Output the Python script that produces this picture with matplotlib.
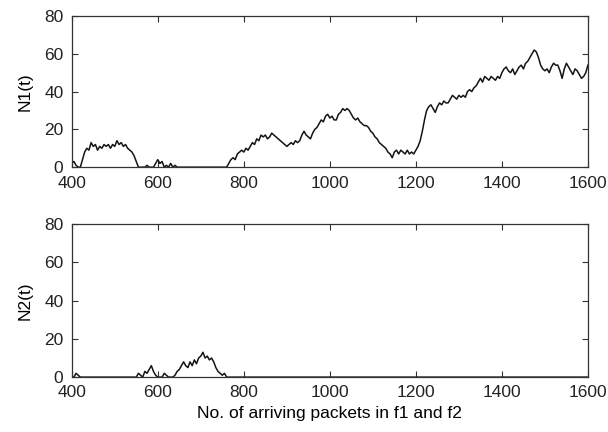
import numpy as np
import matplotlib
matplotlib.use("Agg")
import matplotlib.pyplot as plt

plt.rcParams.update({
    "font.family": ["Liberation Sans", "DejaVu Sans"], "font.size": 12.5,
    "xtick.direction": "in", "ytick.direction": "in",
    "xtick.top": True, "ytick.right": True,
    "xtick.major.size": 4, "ytick.major.size": 4,
    "axes.linewidth": 0.9, "axes.edgecolor": "#333333",
})

# packet index, sampled every 5 arrivals
X1 = np.arange(400, 1601, 5)

# queue length of flow f1
N1 = [
    2, 3, 1, 0, 0, 4, 8, 10, 9, 13, 11, 12, 9, 11, 10, 12, 11, 12, 10, 12,
    11, 14, 12, 13, 11, 12, 10, 9, 8, 6, 3, 0, 0, 0, 0, 1, 0, 0, 0, 2,
    4, 2, 3, 0, 1, 0, 2, 0, 1, 0, 0, 0, 0, 0, 0, 0, 0, 0, 0, 0,
    0, 0, 0, 0, 0, 0, 0, 0, 0, 0, 0, 0, 0, 2, 4, 5, 4, 7, 8, 9,
    8, 10, 9, 11, 13, 12, 15, 14, 17, 16, 17, 15, 16, 18, 17, 16, 15, 14, 13, 12,
    11, 12, 13, 12, 14, 13, 14, 17, 19, 17, 16, 15, 18, 20, 21, 23, 25, 24, 27, 28,
    26, 27, 25, 25, 28, 29, 31, 30, 31, 30, 28, 26, 25, 26, 24, 23, 22, 22, 21, 19,
    18, 16, 15, 13, 12, 11, 10, 8, 7, 5, 8, 9, 7, 9, 8, 7, 9, 7, 8, 7,
    9, 11, 14, 19, 25, 30, 32, 33, 31, 29, 32, 34, 33, 35, 34, 34, 36, 38, 37, 36,
    38, 37, 38, 37, 40, 41, 40, 42, 43, 45, 47, 45, 48, 47, 46, 48, 47, 46, 48, 47,
    50, 52, 53, 51, 50, 52, 49, 51, 53, 54, 52, 55, 56, 58, 60, 62, 61, 58, 54, 52,
    51, 52, 50, 53, 55, 54, 54, 51, 47, 52, 55, 53, 51, 49, 52, 51, 49, 47, 48, 50,
    54,
]

# queue length of flow f2 (empty after packet 760)
X2 = np.arange(400, 1601, 5)
N2_busy = [
    0, 0, 2, 1, 0, 0, 0, 0, 0, 0, 0, 0, 0, 0, 0, 0, 0, 0, 0, 0,
    0, 0, 0, 0, 0, 0, 0, 0, 0, 0, 0, 2, 1, 0, 3, 2, 4, 6, 3, 1,
    0, 0, 0, 2, 1, 0, 0, 0, 1, 3, 4, 6, 8, 6, 5, 8, 6, 9, 7, 10,
    11, 13, 10, 11, 9, 10, 8, 5, 3, 2, 1, 2, 0,
]
N2 = N2_busy + [0] * (len(X2) - len(N2_busy))

fig = plt.figure(figsize=(6.08, 4.32), dpi=100)
ax1 = fig.add_axes([0.118, 0.613, 0.849, 0.350])
ax2 = fig.add_axes([0.118, 0.127, 0.849, 0.354])

for ax, x, y, lab in [(ax1, X1, N1, "N1(t)"), (ax2, X2, N2, "N2(t)")]:
    ax.plot(x, y, color="#141414", lw=1.1)
    ax.set_xlim(400, 1600)
    ax.set_ylim(0, 80)
    ax.set_xticks(range(400, 1601, 200))
    ax.set_yticks(range(0, 81, 20))
    ax.set_ylabel(lab, labelpad=8)
    ax.tick_params(colors="#333333", labelcolor="#222222")
    ax.tick_params(axis="x", pad=6)
    ax.tick_params(axis="y", pad=6)

ax2.set_xlabel("No. of arriving packets in f1 and f2", labelpad=4)

fig.savefig("out.png", dpi=100)
